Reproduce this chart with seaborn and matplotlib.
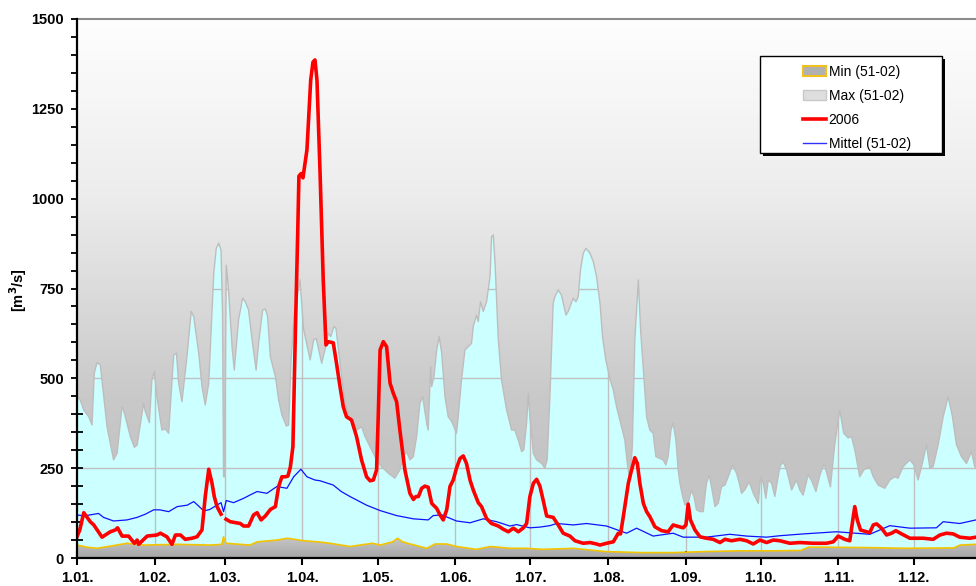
import numpy as np
import matplotlib
matplotlib.use("Agg")
import matplotlib.pyplot as plt
from matplotlib.patches import Polygon, Rectangle, Patch
from matplotlib.lines import Line2D
from matplotlib.colors import LinearSegmentedColormap
import seaborn as sns

plt.rcParams['font.family'] = ['Liberation Sans', 'DejaVu Sans']

# Abfluss [m3/s], Tag im Jahr (0 = 1. Januar)
max_days = [0, 1.3, 2.7, 4.7, 6.0, 6.9, 8.0, 9.3, 12, 14.6, 16, 18, 18.6, 21.3, 22.9, 24,
            26.6, 27.3, 28.9, 29.9, 30.9, 31.9, 33.9, 35.3, 36.6, 38.6, 39.7, 40.6, 41.9,
            43.9, 45.6, 46.6, 48.6, 49.9, 51.2, 52.6, 54.6, 55.6, 56.6, 57.5, 58.1, 58.5,
            58.9, 59.6, 60.5, 61.9, 62.8, 64.5, 66.1, 67.2, 68.5, 69.9, 71.5, 72.5, 74.1,
            75.2, 76.1, 77.2, 79.2, 80.5, 81.8, 83.6, 84.5, 85.4, 86.8, 89, 90.5, 91.8,
            93.1, 94.5, 95.5, 97.7, 99, 100.3, 101.3, 102.6, 103.4, 105, 107, 109, 111.6,
            113.6, 115, 117, 119.6, 121.6, 124.3, 126.9, 128.9, 130.3, 131.6, 132.9, 134.3,
            135.6, 136.9, 138, 139.6, 140.2, 141.2, 141.6, 142.5, 143.6, 144.6, 145.6,
            146.9, 148.2, 149.6, 150.5, 151.5, 152.2, 153.5, 154.9, 156.2, 157.5, 158.2,
            159.5, 160.2, 161.1, 162.2, 163.5, 164.9, 165.5, 166.2, 166.9, 168.2, 169.5,
            171.5, 173.5, 174.8, 176.2, 177.5, 178.4, 179.5, 180.2, 180.8, 182.2, 183.5,
            185.5, 186.8, 187.7, 188.8, 190.1, 190.8, 192.1, 193.4, 195.2, 196.1, 198.1,
            199.2, 200.1, 201.0, 202.1, 203.2, 204.8, 206.1, 207.4, 208.8, 209.8, 211.1,
            212.7, 214.1, 215.4, 217.4, 218.7, 219.7, 220.7, 221.7, 222.7, 224.1, 225,
            226.1, 227.4, 228.7, 230.0, 231.1, 232.4, 234.0, 235.1, 236.0, 237.1, 238.0,
            239.1, 240.0, 240.7, 241.8, 242.7, 244.0, 245.3, 246.3, 247.3, 248.7, 250.0,
            251.3, 252.4, 253.3, 254.7, 256.0, 257.3, 258.7, 260.0, 261.7, 263.3, 264.4,
            265.3, 266.6, 268.4, 270.0, 272, 272.9, 274, 275, 276, 277.3, 278.6, 280.6,
            281.9, 283.3, 285.3, 287.2, 288.6, 289.9, 291.9, 293.2, 295, 296.6, 298.3,
            299.5, 300.8, 302.5, 304.5, 306.1, 307.9, 309.2, 310.5, 312.5, 314.1, 316.5,
            317.9, 319.8, 322.5, 324.5, 326.5, 327.8, 329.8, 332.5, 334.1, 335.8, 337.5,
            339.1, 340.5, 341.8, 343.8, 345.8, 347.8, 349.5, 351.1, 353.1, 355.1, 357.1,
            358.4, 358.9]
max_q = [449, 440, 412, 393, 370, 514, 544, 537, 365, 273, 291, 421, 412, 338, 308, 314,
         430, 407, 377, 495, 519, 449, 356, 359, 347, 565, 570, 486, 435,
         560, 686, 672, 570, 477, 426, 486, 792, 862, 876, 857, 681, 226,
         226, 815, 746, 588, 523, 662, 723, 713, 690, 607, 523, 597, 690,
         693, 672, 560, 505, 440, 398, 367, 370, 542, 681, 774, 635, 593,
         551, 607, 611, 542, 579, 625, 616, 644, 639, 542, 430, 384, 356,
         365, 338, 310, 273, 254, 236, 222, 245, 282, 296, 273, 282,
         338, 430, 449, 375, 356, 532, 477, 505, 579, 616, 570,
         449, 393, 380, 365, 347, 393, 495, 579, 588, 597, 644,
         676, 658, 713, 686, 713, 783, 894, 899, 820, 607, 495,
         412, 356, 356, 328, 296, 301, 375, 458, 393, 291, 273,
         263, 250, 273, 449, 709, 727, 746, 732, 676, 686, 723,
         713, 727, 801, 848, 862, 848, 825, 783, 709, 616, 551,
         500, 468, 421, 365, 328, 263, 217, 310, 607, 774, 635,
         523, 393, 356, 347, 282, 278, 273, 259, 282, 356, 375,
         328, 245, 208, 171, 148, 152, 189, 171, 134, 129, 129,
         208, 231, 198, 143, 152, 198, 203, 226, 259, 236, 208,
         180, 189, 212, 180, 152, 226, 208, 166, 217, 208, 171, 254,
         268, 245, 189, 217, 189, 175, 231, 217, 185, 231, 263,
         231, 198, 315, 412, 347, 334, 338, 301, 226, 245, 254,
         226, 203, 194, 217, 226, 222, 254, 273, 259, 217, 263,
         315, 250, 254, 315, 393, 449, 393, 315, 282, 263, 296,
         254, 250]

min_days = [0, 4, 8, 13.3, 20, 26.6, 40, 53, 57.8, 58.5, 59.5, 69, 72, 80, 84, 90.5, 96,
            101, 109, 118, 121, 126, 128, 130, 133, 139.6, 143, 147.6, 151.5, 159.5, 165,
            173, 179.5, 186, 198, 211, 225, 238, 251, 265, 278, 289, 292, 300, 315, 331,
            350, 352.5, 358.9]
min_q = [36, 30, 27, 33, 41, 36, 38, 36, 38, 59, 41, 36, 45, 50, 55, 48, 45,
         41, 32, 41, 36, 45, 55, 45, 39, 27, 39, 39, 32, 24, 32,
         27, 27, 24, 27, 18, 15, 15, 18, 20, 20, 21, 30, 30, 29, 27,
         28, 36, 38]

mittel_days = [0, 2.7, 5.3, 8.6, 10.6, 14.6, 20, 24, 27.3, 30.6, 33, 36.6, 40, 44, 46.6,
               48.5, 50.6, 53, 57.5, 58.5, 59.6, 62.5, 66.5, 69, 71.9, 75.8, 79.8, 83.8,
               86.5, 89.4, 91.8, 95, 97, 102.3, 105.5, 109, 115.6, 121, 127.6, 134.3,
               140.2, 142.2, 145.6, 151.5, 156.9, 162.2, 167.5, 172.8, 175.5, 180.8,
               184.8, 188.8, 191.5, 198.1, 203.4, 211.4, 219.4, 223.4, 230, 238, 242,
               251.3, 260.6, 267.3, 275.3, 280.6, 289.9, 303.2, 316.5, 324.5, 332.5,
               343.1, 345.8, 352.4, 358.9]
mittel_q = [120, 117, 120, 124, 113, 103, 106, 113, 122, 134, 134, 129, 143, 147, 157,
            145, 131, 135, 154, 129, 160, 154, 166, 175, 185, 180, 199, 194,
            226, 247, 226, 217, 215, 203, 185, 171, 147, 132, 118, 109,
            106, 118, 120, 103, 98, 109, 101, 89, 93, 84,
            86, 90, 96, 92, 96, 89, 69, 83, 61, 69, 58,
            58, 66, 61, 58, 62, 67, 73, 66, 90, 83,
            84, 101, 96, 106]

# 2006, Lücke um den 28.02.
q2006_days = [0, 1.1, 2.7, 5.3, 6.7, 10, 13.3, 15.3, 16.2, 18, 20.6, 22.9, 24, 24.6, 28,
              31.9, 33.3, 35.9, 37.9, 39.3, 41.3, 43.2, 45.9, 47.9, 49.9, 51.2, 52.6, 53.9,
              54.8, 55.9, 57.5, 58.5, 59.5, 61.2, 65.2, 66.5, 68.5, 70.5, 71.9, 73.5, 75.2,
              77.2, 79.2, 80.5, 81.8, 83.2, 84.2, 85.2, 86.2, 87.2, 88.1, 88.6, 89.5, 90.2,
              91.8, 93.3, 94.2, 95, 95.8, 97, 97.7, 98.3, 99.4, 100.3, 102.3, 103.6, 105,
              106.3, 107.6, 109.6, 111.6, 113.6, 115.6, 117, 118.3, 119.6, 120.3, 121,
              122.3, 123.6, 125, 126.3, 127.6, 128.9, 130.9, 132.9, 134.3, 135.3, 136.3,
              137.6, 138.9, 140.2, 141.6, 143.6, 144.9, 146.2, 147.6, 148.9, 150.2, 151.5,
              152.9, 154.2, 155.5, 156.9, 158.2, 160.2, 161.5, 163.5, 165.5, 168.2, 170.2,
              172.2, 174.2, 176.2, 178.2, 179.5, 180.8, 182.2, 183.5, 184.8, 186.1, 187.5,
              190.1, 192.1, 194.1, 196.8, 198.8, 202.1, 204.8, 207.4, 208.8, 211.4, 214.1,
              216.1, 217, 218.1, 220.1, 221.4, 222.7, 223.7, 224.7, 226.1, 227.4, 228.7,
              230.7, 233.4, 236, 238, 239.4, 242, 243.1, 244, 244.9, 246.7, 248.7, 251.3,
              254, 256.7, 258.7, 261.3, 264.6, 267.3, 270, 272.6, 275.3, 278, 280.6, 284.6,
              288.6, 293.9, 299.2, 301.9, 303.9, 306.5, 308.5, 309.6, 310.5, 311.5, 312.8,
              315.2, 316.5, 317.9, 319.2, 321.2, 323.2, 325.2, 326.9, 329.2, 332.5, 337.8,
              341.8, 344.5, 347.1, 349.8, 352.4, 356.4, 358.9]
q2006 = [59, 78, 126, 101, 92, 58, 73, 78, 84, 61, 61, 41, 50, 38, 61,
         64, 69, 59, 38, 64, 64, 52, 55, 59, 78, 171, 247, 208,
         171, 143, 122, None, 108, 101, 96, 89, 89, 120, 126, 106, 117,
         135, 143, 199, 226, 226, 228, 254, 310, 635, 900, 1063, 1070, 1058,
         1136, 1330, 1380, 1386, 1330, 1080, 913, 774, 593, 602, 599, 542, 477,
         421, 393, 384, 338, 273, 226, 215, 217, 245, 403, 579,
         602, 588, 486, 458, 435, 356, 245, 180, 163, 171, 171,
         194, 200, 197, 152, 138, 120, 106, 134, 199, 217, 250,
         277, 284, 263, 217, 189, 154, 143, 110, 96, 89, 80,
         73, 83, 73, 84, 96, 171, 208, 219, 200, 161, 117,
         113, 92, 69, 61, 48, 41, 43, 39, 36, 41, 45,
         69, 67, 115, 208, 245, 279, 263, 208, 152, 129, 115,
         87, 76, 73, 92, 89, 84, 92, 150, 106, 78, 59, 55,
         52, 43, 52, 48, 52, 48, 39, 50, 43, 50, 48, 41,
         43, 41, 41, 45, 61, 52, 48, 101, 143, 106, 78,
         73, 71, 92, 95, 83, 64, 69, 76, 67, 55, 55,
         52, 64, 69, 67, 58, 55, 58]

month_days = [0, 31, 59, 90, 120, 151, 181, 212, 243, 273, 304, 334]
month_labels = ['1.01.', '1.02.', '1.03.', '1.04.', '1.05.', '1.06.',
                '1.07.', '1.08.', '1.09.', '1.10.', '1.11.', '1.12.']
y_ticks = [0, 250, 500, 750, 1000, 1250, 1500]

X_END = 358.9
Y_TOP = 1500

fig = plt.figure(figsize=(9.76, 5.86), dpi=100)
ax = fig.add_axes([77 / 976, 28 / 586, 899 / 976, 539 / 586])
ax.set_xlim(0, X_END)
ax.set_ylim(0, Y_TOP)

# Bereich unter dem Maximum (hellblau) mit Gitter
ax.fill_between(max_days, 0, max_q, color='#ccffff', lw=0, zorder=1)
for yv in y_ticks[1:-1]:
    ax.axhline(yv, color='#c0c0c0', lw=1, zorder=1.5)
for xv in month_days[1:]:
    ax.axvline(xv, color='#c0c0c0', lw=1, zorder=1.5)

# grauer Verlauf oberhalb des Maximums
grey_cmap = LinearSegmentedColormap.from_list(
    'grau', [(0.0, '#c4c4c4'), (0.2, '#c5c5c5'), (0.3, '#c9c9c9'),
             (0.48, '#dadada'), (0.67, '#ececec'), (1.0, '#fefefe')])
grad = np.linspace(0, 1, 300)[:, None]
top_poly = Polygon(list(zip(max_days, max_q)) + [(X_END, Y_TOP), (0, Y_TOP)],
                   closed=True, facecolor='none', edgecolor='none',
                   transform=ax.transData)
ax.add_patch(top_poly)
im = ax.imshow(grad, cmap=grey_cmap, extent=[0, X_END, 0, Y_TOP], origin='lower',
               aspect='auto', zorder=2, interpolation='bilinear')
im.set_clip_path(top_poly)
sns.lineplot(x=max_days, y=max_q, ax=ax, color='#bdbdbd', lw=1, zorder=2.5,
             estimator=None, sort=False)

# Minimum (grau mit gelbem Rand)
min_cmap = LinearSegmentedColormap.from_list('mingrau', ['#a6a6a6', '#c8c8c8'])
bot_poly = Polygon(list(zip(min_days, min_q)) + [(X_END, 0), (0, 0)],
                   closed=True, facecolor='none', edgecolor='none',
                   transform=ax.transData)
ax.add_patch(bot_poly)
im2 = ax.imshow(np.linspace(0, 1, 50)[:, None], cmap=min_cmap, extent=[0, X_END, 0, 60],
                origin='lower', aspect='auto', zorder=3)
im2.set_clip_path(bot_poly)
sns.lineplot(x=min_days, y=min_q, ax=ax, color='#f5c400', lw=1.2, zorder=3.5,
             estimator=None, sort=False)

# Mittel
sns.lineplot(x=mittel_days, y=mittel_q, ax=ax, color='#1010ff', lw=0.9, zorder=4,
             estimator=None, sort=False)

# 2006 (in Segmente teilen, wo Werte fehlen)
seg_x, seg_y = [], []
for d, q in zip(q2006_days + [None], q2006 + [None]):
    if q is None:
        if seg_x:
            sns.lineplot(x=seg_x, y=seg_y, ax=ax, color='#ff0000', lw=2.6, zorder=5,
                         estimator=None, sort=False)
        seg_x, seg_y = [], []
    else:
        seg_x.append(d)
        seg_y.append(q)

ax.set_xlabel('')
ax.set_ylabel('')
ax.set_xticks(month_days)
ax.set_xticklabels(month_labels, fontweight='bold', fontsize=10.5)
ax.set_yticks(y_ticks)
ax.set_yticklabels([str(v) for v in y_ticks], fontweight='bold', fontsize=10.5)
ax.set_yticks(np.arange(0, Y_TOP + 1, 50), minor=True)
ax.tick_params(axis='y', which='both', direction='inout', length=9, width=1.3,
               color='black', pad=5)
ax.tick_params(axis='x', which='major', direction='inout', length=10, width=1.5,
               color='black', pad=4)

for side in ['left', 'bottom']:
    ax.spines[side].set_color('black')
    ax.spines[side].set_linewidth(1.6)
    ax.spines[side].set_zorder(6)
ax.spines['top'].set_color('#8c8c8c')
ax.spines['top'].set_linewidth(1.5)
ax.spines['right'].set_visible(False)

fig.text(18 / 976, 1 - 290 / 586, '[m$^\\mathbf{3}$/s]', rotation=90, ha='center',
         va='center', fontweight='bold', fontsize=10.5)

# Legende mit Schatten
fw, fh = 976, 586
shadow = Rectangle(((760 + 3) / fw, 1 - (153 + 3) / fh), 182 / fw, 97 / fh,
                   transform=fig.transFigure, facecolor='black', edgecolor='none',
                   zorder=8)
frame = Rectangle((760 / fw, 1 - 153 / fh), 182 / fw, 97 / fh,
                  transform=fig.transFigure, facecolor='white', edgecolor='black',
                  lw=1, zorder=9)
fig.add_artist(shadow)
fig.add_artist(frame)
handles = [
    Patch(facecolor='#b0b0b0', edgecolor='#f0c020', lw=1.5, label='Min (51-02)'),
    Patch(facecolor='#dedede', edgecolor='#c8c8c8', lw=1, label='Max (51-02)'),
    Line2D([], [], color='#ff0000', lw=2.6, label='2006'),
    Line2D([], [], color='#3030ff', lw=1, label='Mittel (51-02)'),
]
leg = fig.legend(handles=handles, loc='upper left',
                 bbox_to_anchor=(796 / fw, 1 - 58 / fh), frameon=False,
                 fontsize=10, borderpad=0, handlelength=1.65, handleheight=0.65,
                 handletextpad=0.2, labelspacing=0.72)
leg.set_zorder(10)

fig.savefig('out.png', dpi=100)
